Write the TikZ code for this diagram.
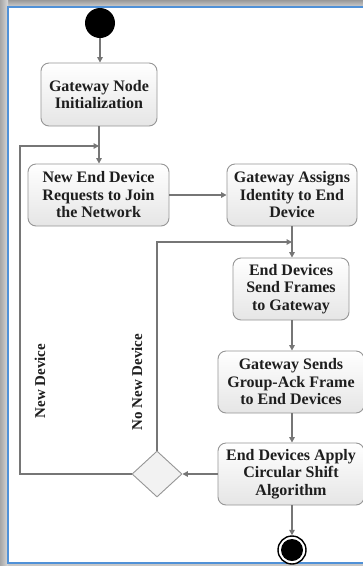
\documentclass[tikz,border=0pt]{standalone}
\usepackage{fontspec}
\setmainfont{Liberation Serif}
\usetikzlibrary{arrows.meta,shapes.geometric,calc}
\definecolor{frameblue}{RGB}{80,145,215}
\definecolor{linegray}{RGB}{118,118,118}
\definecolor{boxborder}{RGB}{150,150,150}
\definecolor{txt}{RGB}{30,30,30}
\tikzset{
  actbox/.style={draw=boxborder, line width=0.9pt, rounded corners=8pt,
    top color=white, bottom color=black!10, align=center, inner sep=0pt,
    font=\fontsize{16}{17.5}\selectfont\bfseries, text=txt},
  flow/.style={draw=linegray, line width=1.5pt, -{Triangle[length=5.5pt,width=5.5pt]}},
  lbl/.style={font=\fontsize{15}{17}\selectfont\bfseries, text=txt, rotate=90}
}
\begin{document}
\begin{tikzpicture}[x=1pt,y=-1pt]
\useasboundingbox (0,0) rectangle (363,566);
% background frame
\fill[black!22] (0,0) rectangle (363,566);
\fill[top color=black!40, bottom color=black!18] (0,0) rectangle (363,7);
\fill[left color=black!35, right color=black!15] (0,0) rectangle (8,566);
\filldraw[fill=white, draw=frameblue, line width=1.6pt] (8,7) rectangle (372,563);

% start / end
\node[circle, fill=black, minimum size=30pt, inner sep=0pt] (start) at (100,23) {};
\node[circle, draw=black, fill=white, line width=1.4pt, minimum size=28pt, inner sep=0pt] (stop) at (292,550) {};
\node[circle, fill=black, minimum size=22pt, inner sep=0pt] (stopin) at (292,550) {};

% activities
\node[actbox, minimum width=116pt, minimum height=63pt] (b1) at (99,94.5) {Gateway Node\\Initialization};
\node[actbox, minimum width=141pt, minimum height=62pt] (b2) at (98.5,195) {New End Device\\Requests to Join\\the Network};
\node[actbox, minimum width=130pt, minimum height=62pt] (b3) at (292,195) {Gateway Assigns\\Identity to End\\Device};
\node[actbox, minimum width=116pt, minimum height=62pt] (b4) at (291,289) {End Devices\\Send Frames\\to Gateway};
\node[actbox, minimum width=146pt, minimum height=62pt] (b5) at (291,382) {Gateway Sends\\Group-Ack Frame\\to End Devices};
\node[actbox, minimum width=146pt, minimum height=62pt] (b6) at (291,474) {End Devices Apply\\Circular Shift\\Algorithm};

% decision
\node[diamond, draw=boxborder, fill=black!5, line width=0.9pt, minimum width=50pt, minimum height=46pt, inner sep=0pt] (dec) at (157,474) {};

% junction coordinates
\coordinate (j1) at (99,146);
\coordinate (j2) at (292,242);
\coordinate (cL) at (20,474);
\coordinate (cLt) at (20,146);
\coordinate (cN) at (157,242);

% connectors
\draw[flow] (start) -- (b1.north -| start);
\draw[flow] (b1) -- (b2.north -| b1);
\draw[flow] (b2.east) -- (b3.west);
\draw[flow] (b3.south -| j2) -- (b4.north -| j2);
\draw[flow] (b4.south -| j2) -- (b5.north -| j2);
\draw[flow] (b5.south -| j2) -- (b6.north -| j2);
\draw[flow] (b6.west) -- (dec.east);
\draw[flow] (b6.south -| j2) -- (stop.north);
\draw[flow] (dec.west) -- (cL) -- (cLt) -- (j1);
\draw[flow] (dec.north) -- (cN) -- (j2);

% labels
\node[lbl] (lnew) at (40,381) {New Device};
\node[lbl] (lnonew) at (137,382) {No New Device};
\end{tikzpicture}
\end{document}
